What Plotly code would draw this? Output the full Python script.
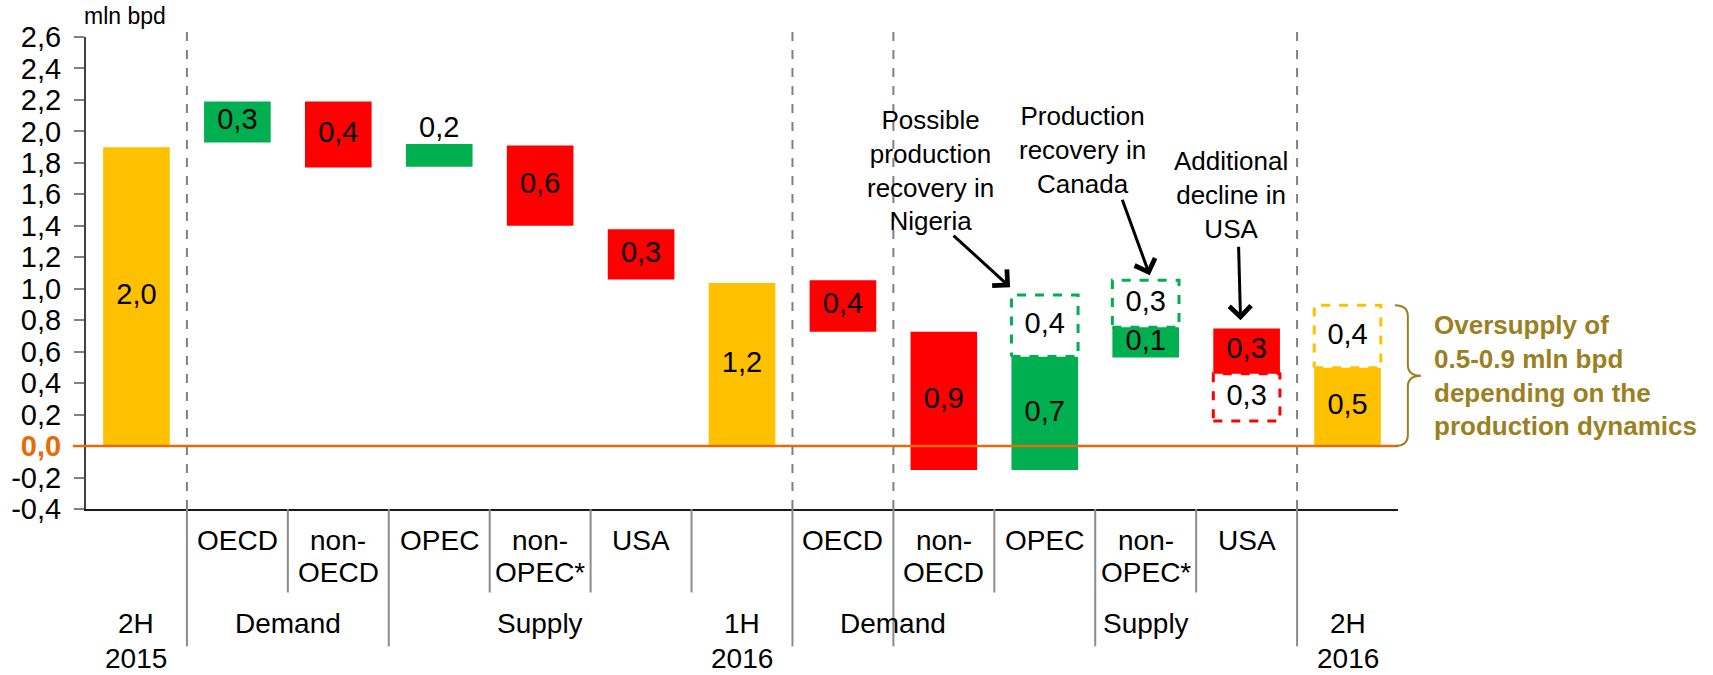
import plotly.graph_objects as go

# ---------------- data ----------------
categories = ["2H 2015", "OECD", "non-OECD", "OPEC", "non-OPEC*", "USA",
              "1H 2016", "OECD", "non-OECD", "OPEC", "non-OPEC*", "USA", "2H 2016"]
sub_labels = [[], ["OECD"], ["non-", "OECD"], ["OPEC"], ["non-", "OPEC*"], ["USA"],
              [], ["OECD"], ["non-", "OECD"], ["OPEC"], ["non-", "OPEC*"], ["USA"], []]
group_labels = [["2H", "2015"], ["Demand"], ["Supply"], ["1H", "2016"], ["Demand"], ["Supply"], ["2H", "2016"]]
group_centers = [0, 1.5, 4, 6, 7.5, 10, 12]

bar_base = [0.0, 1.93, 1.77, 1.775, 1.40, 1.058, 0.0, 0.726, -0.152, -0.152, 0.563, 0.46, 0.0]
bar_top = [1.90, 2.19, 2.19, 1.92, 1.91, 1.378, 1.037, 1.054, 0.726, 0.567, 0.755, 0.747, 0.497]
bar_kind = ["total", "up", "down", "up", "down", "down", "total", "down", "down", "up", "up", "down", "total"]
bar_text = ["2,0", "0,3", "0,4", "0,2", "0,6", "0,3", "1,2", "0,4", "0,9", "0,7", "0,1", "0,3", "0,5"]

# possible (dashed) scenarios
dash_idx = [9, 10, 11, 12]
dash_base = [0.57, 0.755, 0.16, 0.497]
dash_top = [0.96, 1.054, 0.46, 0.895]
dash_kind = ["up", "up", "down", "total"]
dash_text = ["0,4", "0,3", "0,3", "0,4"]

y_ticks = [-0.4, -0.2, 0.0, 0.2, 0.4, 0.6, 0.8, 1.0, 1.2, 1.4, 1.6, 1.8, 2.0, 2.2, 2.4, 2.6]

colors = {"total": "#FFC000", "up": "#00B050", "down": "#FF0000"}
ORANGE = "#E46C0A"
OLIVE = "#9C7F1F"
FONT = "Liberation Sans, Arial, sans-serif"
W = 0.66

fig = go.Figure()

# solid bars
fig.add_trace(go.Bar(
    x=list(range(len(categories))),
    y=[t - b for b, t in zip(bar_base, bar_top)],
    base=bar_base,
    width=W,
    marker=dict(color=[colors[k] for k in bar_kind], line=dict(width=0)),
    hoverinfo="skip",
    showlegend=False,
))

# dashed boxes
for i, b, t, k in zip(dash_idx, dash_base, dash_top, dash_kind):
    fig.add_trace(go.Scatter(
        x=[i - W / 2, i + W / 2, i + W / 2, i - W / 2, i - W / 2],
        y=[b, b, t, t, b],
        mode="lines",
        line=dict(color=colors[k], width=3, dash="dash"),
        hoverinfo="skip", showlegend=False,
    ))

# bar labels
lab_y = []
lab_pos = []
for i, (b, t) in enumerate(zip(bar_base, bar_top)):
    if (t - b) < 0.17:
        lab_y.append(t)
        lab_pos.append("top center")
    else:
        lab_y.append((b + t) / 2)
        lab_pos.append("middle center")
fig.add_trace(go.Scatter(
    x=list(range(len(categories))), y=lab_y, text=bar_text, mode="text",
    textposition=lab_pos, textfont=dict(size=29, color="black", family=FONT),
    hoverinfo="skip", showlegend=False, cliponaxis=False,
))
fig.add_trace(go.Scatter(
    x=dash_idx, y=[(b + t) / 2 for b, t in zip(dash_base, dash_top)], text=dash_text,
    mode="text", textposition="middle center",
    textfont=dict(size=29, color="black", family=FONT),
    hoverinfo="skip", showlegend=False, cliponaxis=False,
))

n = len(categories)
shapes = []


def px_paper(xv):
    return (xv + 0.5) / n


# zero line
shapes.append(dict(type="line", xref="paper", yref="y", x0=-0.01, x1=1, y0=0, y1=0,
                   line=dict(color=ORANGE, width=2.5), layer="above"))
# dashed separators in the plot
for bnd in [0.5, 6.5, 7.5, 11.5]:
    shapes.append(dict(type="line", xref="paper", yref="paper", x0=px_paper(bnd), x1=px_paper(bnd),
                       y0=0, y1=1.018, line=dict(color="#808080", width=2, dash="dash"), layer="below"))
# solid separators under the axis
for bnd in [0.5, 2.5, 6.5, 7.5, 9.5, 11.5]:
    shapes.append(dict(type="line", xref="paper", yref="paper", x0=px_paper(bnd), x1=px_paper(bnd),
                       y0=-0.291, y1=0, line=dict(color="#8C8C8C", width=2)))
for bnd in [1.5, 3.5, 4.5, 5.5, 8.5, 10.5]:
    shapes.append(dict(type="line", xref="paper", yref="paper", x0=px_paper(bnd), x1=px_paper(bnd),
                       y0=-0.177, y1=0, line=dict(color="#8C8C8C", width=2)))

# curly brace for the oversupply range
top = dash_top[-1]
bot = 0.0
mid = (top + bot) / 2
xl, xm, xr = 0.9977, 1.0075, 1.0175
d = 0.07
brace = (f"M{xl},{top} Q{xm},{top} {xm},{top - d} L{xm},{mid + d} "
         f"Q{xm},{mid} {xr},{mid} Q{xm},{mid} {xm},{mid - d} "
         f"L{xm},{bot + d} Q{xm},{bot} {xl},{bot}")
shapes.append(dict(type="path", xref="paper", yref="y", path=brace,
                   line=dict(color=OLIVE, width=2)))

annotations = []
# category labels under the axis (one annotation per line)
sub_shift = [-31, -63]
for i, lines in enumerate(sub_labels):
    for j, ln in enumerate(lines):
        annotations.append(dict(x=i, xref="x", y=0, yref="paper", text=ln, showarrow=False,
                                yanchor="middle", yshift=sub_shift[j],
                                font=dict(size=28, color="black", family=FONT)))
grp_shift = [-114, -149]
for c, lines in zip(group_centers, group_labels):
    for j, ln in enumerate(lines):
        annotations.append(dict(x=c, xref="x", y=0, yref="paper", text=ln, showarrow=False,
                                yanchor="middle", yshift=grp_shift[j],
                                font=dict(size=28, color="black", family=FONT)))

# unit label
annotations.append(dict(x=(125 - 86) / 1312, xref="paper", y=1, yref="paper", text="mln bpd",
                        showarrow=False, yshift=21, xanchor="center", yanchor="middle",
                        font=dict(size=23, color="black", family=FONT)))

# callouts
callouts = [
    ("Possible<br>production<br>recovery in<br>Nigeria", 7.87, 1.75, 8.656, 1.01, -58, -53),
    ("Production<br>recovery in<br>Canada", 9.376, 1.88, 10.04, 1.086, -28, -77),
    ("Additional<br>decline in<br>USA", 10.85, 1.594, 10.94, 0.80, -2, -75),
]
for txt, tx, ty, hx, hy, ax, ay in callouts:
    annotations.append(dict(x=tx, y=ty, xref="x", yref="y", text=txt, showarrow=False,
                            font=dict(size=26, color="black", family=FONT), align="center"))
    annotations.append(dict(x=hx, y=hy, xref="x", yref="y", text="", showarrow=True,
                            ax=ax, ay=ay, arrowhead=4, arrowsize=1.4, arrowwidth=3,
                            arrowcolor="black"))

annotations.append(dict(x=1.0257, xref="paper", y=mid, yref="y",
                        text="<b>Oversupply of<br>0.5-0.9 mln bpd<br>depending on the<br>production dynamics</b>",
                        showarrow=False, xanchor="left", yanchor="middle", align="left",
                        font=dict(size=26, color=OLIVE, family=FONT)))

tick_text = []
for v in y_ticks:
    s = f"{v:.1f}".replace(".", ",")
    if abs(v) < 1e-9:
        s = f"<b><span style='color:{ORANGE}'>0,0</span></b>"
    tick_text.append(s)

fig.update_layout(
    width=1713, height=675,
    margin=dict(l=86, r=315, t=37, b=166),
    paper_bgcolor="white", plot_bgcolor="white",
    font=dict(family=FONT, color="black"),
    barmode="overlay",
    shapes=shapes, annotations=annotations,
    xaxis=dict(range=[-0.5, n - 0.5], showticklabels=False, ticks="", showgrid=False,
               zeroline=False, showline=True, linecolor="#1A1A1A", linewidth=2, fixedrange=True),
    yaxis=dict(range=[-0.4, 2.6], tickvals=y_ticks, ticktext=tick_text, showgrid=False,
               zeroline=False, showline=True, linecolor="#404040", linewidth=2,
               ticks="outside", ticklen=10, tickwidth=2, tickcolor="#808080",
               tickfont=dict(size=29, color="black", family=FONT), ticklabelstandoff=7,
               fixedrange=True),
)

fig.write_html("out.html", config={"displayModeBar": False},
               post_script="document.body.style.margin='0';document.body.style.overflow='hidden';")
